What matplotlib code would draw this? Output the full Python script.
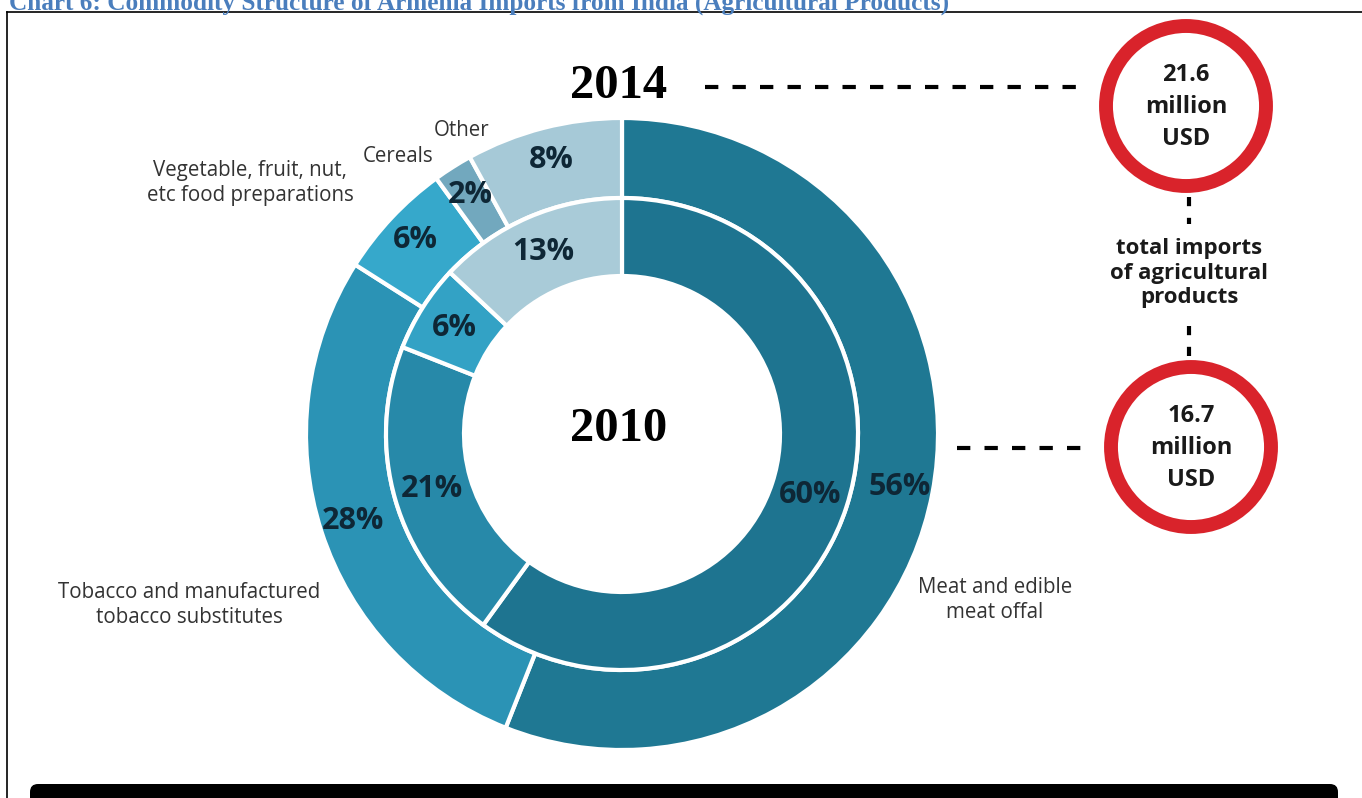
import matplotlib
matplotlib.use('Agg')
import matplotlib.pyplot as plt
from matplotlib.patches import Circle, FancyBboxPatch

plt.rcParams['font.family'] = ['Open Sans', 'DejaVu Sans']

# data
categories = ['Meat and edible\nmeat offal',
              'Tobacco and manufactured\ntobacco substitutes',
              'Vegetable, fruit, nut,\netc food preparations',
              'Cereals',
              'Other']
share_2014 = [56, 28, 6, 2, 8]
share_2010 = [60, 21, 6, 0, 13]
total_2014 = 21.6
total_2010 = 16.7

title = 'Chart 6: Commodity Structure of Armenia Imports from India (Agricultural Products)'

colors_2014 = ['#1f7893', '#2b93b5', '#36a8cb', '#72a8be', '#a6c9d7']
colors_2010 = ['#1e7490', '#2789a9', '#33a2c5', '#72a8be', '#a9cbd8']

W, H = 1362, 798
def Y(y):
    return H - y

fig = plt.figure(figsize=(W / 100, H / 100), dpi=100)
ax = fig.add_axes([0, 0, 1, 1])

cx, cy = 622, Y(434)
label_kw = dict(fontsize=22, fontweight='bold', color='#0e2736')

# 2014 outer ring
ax.pie(share_2014, colors=colors_2014, startangle=90, counterclock=False,
       radius=316, center=(cx, cy),
       wedgeprops=dict(width=80, edgecolor='white', linewidth=3),
       autopct=lambda p: f'{p:.0f}%', pctdistance=0.895, textprops=label_kw)

# 2010 inner ring (no cereals that year)
vals10 = [v for v in share_2010 if v > 0]
cols10 = [c for v, c in zip(share_2010, colors_2010) if v > 0]
ax.pie(vals10, colors=cols10, startangle=90, counterclock=False,
       radius=236, center=(cx, cy),
       wedgeprops=dict(width=78, edgecolor='white', linewidth=3),
       autopct=lambda p: f'{p:.0f}%', pctdistance=0.84, textprops=label_kw)

ax.set_xlim(0, W)
ax.set_ylim(0, H)
ax.set_aspect('equal')
ax.axis('off')

# category names around the ring
name_kw = dict(fontsize=14.8, color='#333333', ha='center', va='center', linespacing=1.25)
ax.text(995, Y(600), categories[0], **name_kw)
ax.text(189, Y(605), categories[1], **name_kw)
ax.text(250, Y(183), categories[2], **name_kw)
ax.text(398, Y(157), categories[3], **name_kw)
ax.text(462, Y(130), categories[4], **name_kw)

# year labels
year_kw = dict(fontsize=35, fontweight='bold', family='Liberation Serif',
               ha='center', va='center', color='black')
ax.text(619, Y(86), '2014', **year_kw)
ax.text(619, Y(429), '2010', **year_kw)

# red circles with totals
red = '#d9232b'
c14 = (1186, Y(106))
c10 = (1191, Y(447))
for c in (c14, c10):
    ax.add_patch(Circle(c, 80, fill=False, edgecolor=red, linewidth=10))
tot_kw = dict(fontsize=17, fontweight='bold', color='#1a1a1a',
              ha='center', va='center', linespacing=1.45)
ax.text(c14[0], c14[1] - 1, f'{total_2014}\nmillion\nUSD', **tot_kw)
ax.text(c10[0], c10[1] - 1, f'{total_2010}\nmillion\nUSD', **tot_kw)
ax.text(1189, Y(273), 'total imports\nof agricultural\nproducts', fontsize=16,
        fontweight='bold', color='#1a1a1a', ha='center', va='center', linespacing=1.2)

# dashed connectors
dash = dict(color='black', linewidth=3, linestyle=(0, (3.2, 3.4)))
ax.plot([705, 1085], [Y(87), Y(87)], **dash)
ax.plot([957, 1092], [Y(448), Y(448)], **dash)
vdash = dict(color='black', linewidth=3, linestyle=(0, (2.2, 2.8)))
ax.plot([1189, 1189], [Y(197), Y(224)], **vdash)
ax.plot([1189, 1189], [Y(326), Y(358)], **vdash)

# page elements: title, frame, bottom bar
ax.text(9, Y(10), title, fontsize=18.2, fontweight='bold', family='Liberation Serif',
        color='#4a7ebd', va='baseline', ha='left')
ax.plot([7, W], [Y(12), Y(12)], color='black', linewidth=1.2)
ax.plot([7, 7], [Y(12), 0], color='black', linewidth=1.2)
ax.add_patch(FancyBboxPatch((30, -40), 1308, 40 + (H - 784), boxstyle='round,pad=0,rounding_size=8',
                            facecolor='black', edgecolor='none'))

fig.savefig('out.png', dpi=100)
